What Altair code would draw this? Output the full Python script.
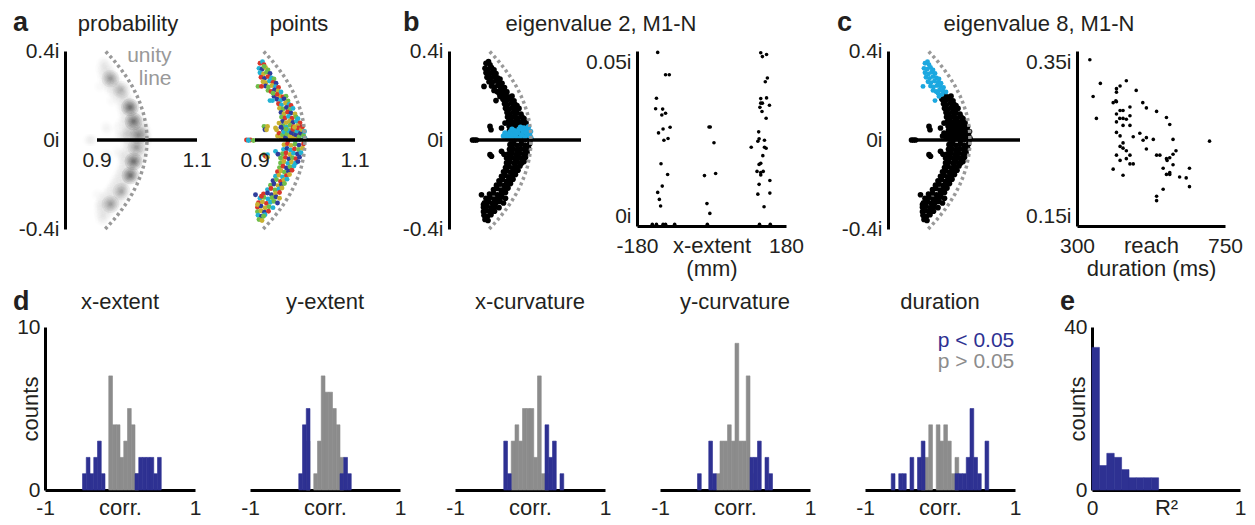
import altair as alt
import pandas as pd

FONT = "Liberation Sans"
TXT = "#231f20"
BLUE = "#2e3192"
HGRAY = "#8c8c8c"
CYAN = "#1ca8e0"
ARC = "#999999"
LBL = 21
TTL = 22
XR0 = 0.836   # left end of the real-part scale in the eigenvalue panels
PXU = 500     # pixels per unit of real part
BIN_W = 0.05
H_TOP = 178
H_BOT = 163

# ---------------- unity circle (imaginary parts) ----------------
unity_im = [-0.40, -0.36, -0.32, -0.28, -0.24, -0.20, -0.16, -0.12, -0.08, -0.04, 0.0,
            0.04, 0.08, 0.12, 0.16, 0.20, 0.24, 0.28, 0.32, 0.36, 0.40]

# ---------------- eigenvalues, dataset M1-N (real, imag) ----------------
m1n_base = [
    (0.950, 0.199), (0.956, 0.193), (0.962, 0.197),
    (0.944, 0.183), (0.951, 0.178), (0.958, 0.185), (0.966, 0.176),
    (0.947, 0.163), (0.953, 0.158), (0.961, 0.166), (0.968, 0.160), (0.972, 0.155),
    (0.949, 0.143), (0.956, 0.139), (0.963, 0.146), (0.970, 0.137), (0.976, 0.142),
    (0.952, 0.124), (0.958, 0.118), (0.965, 0.126), (0.972, 0.121), (0.980, 0.117),
    (0.953, 0.103), (0.960, 0.099), (0.967, 0.106), (0.974, 0.098), (0.982, 0.104), (0.986, 0.096),
    (0.955, 0.083), (0.962, 0.078), (0.969, 0.085), (0.976, 0.079), (0.983, 0.084), (0.990, 0.077),
    (0.956, 0.063), (0.963, 0.058), (0.970, 0.066), (0.977, 0.060), (0.985, 0.064), (0.993, 0.057),
    (0.957, 0.043), (0.964, 0.038), (0.971, 0.045), (0.979, 0.039), (0.987, 0.044), (0.995, 0.036),
    (0.958, 0.023), (0.965, 0.018), (0.972, 0.025), (0.980, 0.017), (0.988, 0.024), (0.997, 0.019),
    (0.959, 0.004), (0.966, -0.003), (0.973, 0.006), (0.981, -0.004), (0.989, 0.003), (0.998, -0.002),
    (0.958, -0.021), (0.965, -0.017), (0.972, -0.024), (0.980, -0.019), (0.988, -0.023), (0.997, -0.018),
    (0.957, -0.042), (0.964, -0.038), (0.971, -0.045), (0.979, -0.040), (0.987, -0.043), (0.995, -0.037),
    (0.955, -0.062), (0.962, -0.058), (0.970, -0.065), (0.977, -0.059), (0.985, -0.063), (0.992, -0.057),
    (0.954, -0.083), (0.961, -0.078), (0.968, -0.085), (0.975, -0.080), (0.982, -0.084), (0.989, -0.077),
    (0.951, -0.103), (0.958, -0.098), (0.966, -0.105), (0.973, -0.099), (0.981, -0.104), (0.986, -0.097),
    (0.949, -0.124), (0.956, -0.118), (0.963, -0.126), (0.970, -0.120), (0.978, -0.117),
    (0.945, -0.143), (0.952, -0.138), (0.959, -0.145), (0.967, -0.140), (0.974, -0.136),
    (0.941, -0.163), (0.948, -0.158), (0.955, -0.166), (0.963, -0.160), (0.969, -0.155),
    (0.936, -0.183), (0.943, -0.178), (0.951, -0.186), (0.958, -0.180), (0.964, -0.176),
    (0.931, -0.203), (0.938, -0.198), (0.946, -0.205), (0.953, -0.200), (0.959, -0.196),
    (0.925, -0.223), (0.932, -0.218), (0.940, -0.225), (0.948, -0.220), (0.954, -0.216),
    (0.917, -0.243), (0.925, -0.238), (0.933, -0.246), (0.941, -0.240), (0.949, -0.236),
    (0.910, -0.262), (0.918, -0.258), (0.926, -0.265), (0.934, -0.259), (0.942, -0.256), (0.949, -0.262),
    (0.907, -0.282), (0.915, -0.278), (0.923, -0.285), (0.931, -0.280), (0.938, -0.276), (0.945, -0.283),
    (0.905, -0.302), (0.912, -0.297), (0.920, -0.305), (0.928, -0.300), (0.936, -0.304),
    (0.905, -0.322), (0.912, -0.318), (0.919, -0.325), (0.927, -0.320),
    (0.906, -0.338), (0.913, -0.343), (0.920, -0.336),
    (0.908, -0.357), (0.914, -0.362),
    (0.883, 0.000), (0.887, 0.000), (0.891, 0.000), (0.918, 0.061), (0.920, 0.046),
    (0.941, 0.054), (0.948, 0.076), (0.918, -0.066), (0.921, -0.073), (0.941, -0.051),
    (0.946, -0.064), (0.951, -0.081), (0.901, -0.246), (0.905, -0.290),
]

# eigenvalue 8 of every condition (highlighted in c)
m1n_ev8 = [
    (0.910, 0.345), (0.915, 0.352), (0.918, 0.338),
    (0.908, 0.322), (0.914, 0.318), (0.921, 0.326), (0.926, 0.315),
    (0.910, 0.302), (0.917, 0.297), (0.923, 0.305), (0.930, 0.299),
    (0.912, 0.282), (0.919, 0.277), (0.926, 0.285), (0.933, 0.279), (0.938, 0.274),
    (0.916, 0.262), (0.922, 0.258), (0.929, 0.265), (0.936, 0.259), (0.942, 0.255),
    (0.906, 0.241), (0.921, 0.243), (0.927, 0.238), (0.934, 0.245), (0.941, 0.239), (0.947, 0.236),
    (0.926, 0.223), (0.932, 0.218), (0.939, 0.225), (0.946, 0.220), (0.952, 0.216),
    (0.930, 0.177), (0.938, 0.196), (0.944, 0.205), (0.936, 0.210),
]

# eigenvalue 2 of every condition (highlighted in b)
m1n_ev2 = [
    (0.945, 0.018), (0.948, 0.031), (0.952, 0.012), (0.955, 0.024), (0.958, 0.036),
    (0.961, 0.010), (0.964, 0.027), (0.967, 0.042), (0.970, 0.016), (0.973, 0.033),
    (0.976, 0.048), (0.978, 0.008), (0.981, 0.024), (0.984, 0.040), (0.986, 0.054),
    (0.988, 0.014), (0.991, 0.031), (0.993, 0.047), (0.995, 0.060), (0.997, 0.020),
    (0.999, 0.038), (1.000, 0.008), (0.962, 0.048), (0.979, 0.057),
]

# extra eigenvalues of the other datasets in a (real, imag, dataset)
a_extra = [
    (0.887, -0.002, 2), (0.897, -0.002, 4), (0.925, 0.061, 3), (0.923, 0.046, 3),
    (0.943, 0.046, 3), (0.952, 0.057, 1), (0.925, -0.066, 2), (0.925, -0.078, 3),
    (0.913, 0.241, 0), (0.935, 0.177, 2), (0.918, 0.331, 4), (0.913, -0.253, 0),
    (0.917, -0.343, 4),
]
a_dataset_codes = ("30412 14023 20341 42130 13402 04213 31204 24031 10342 43210 "
                   "02413 21430 34102 12043 40321 23014 01432 32140 14203 41023 "
                   "20314 03241 31420 42301 13024 24130 30241 01342 43102 12430 "
                   "20413 34021 41302 02134 23410 10243 32014 14320 40132 21043 "
                   "03421 42310 31204 13042 24301 10234")
a_palette = ["#d9372b", "#2e3d9c", "#22b2d3", "#c8b130", "#6fbe4a"]

# probability peaks in a (real, imag, darkness)
blob_re = [0.927, 0.949, 0.966, 0.973, 0.983, 0.979, 0.973, 0.967, 0.949, 0.927]
blob_im = [0.276, 0.226, 0.147, 0.084, 0.021, -0.033, -0.096, -0.159, -0.231, -0.288]
blob_w = [0.6, 0.4, 1.0, 1.0, 0.6, 0.6, 1.0, 1.0, 0.5, 0.6]

# ---------------- b: eigenvalue 2 imag part vs x-extent ----------------
b_xext = [-130, -111, -102, -133, -135, -118, -111, -120, -117, -100, -128, -115, -105,
          -122, -106, -119, -130, -126, -123, -143, -133, -117, -111, -89,
          -6, -3, 6, -17, 10, -11, -4, -10,
          119, 133, 123, 135, 130, 119, 133, 119, 123, 140, 117, 122, 132, 114, 115, 112,
          128, 96, 128, 132, 124, 119, 115, 110, 119, 125, 119, 115, 141, 112, 141, 127,
          116, 142]
b_eig = [0.0496, 0.0432, 0.0432, 0.0365, 0.0335, 0.0334, 0.0322, 0.0317, 0.0277, 0.0282,
         0.0266, 0.0245, 0.0250, 0.0178, 0.0147, 0.0114, 0.0096, 0.0076, 0.0057,
         0.0005, 0.0005, 0.0005, 0.0005, 0.0005,
         0.0283, 0.0283, 0.0238, 0.0144, 0.0150, 0.0064, 0.0036, 0.0005,
         0.0495, 0.0490, 0.0484, 0.0423, 0.0412, 0.0364, 0.0366, 0.0351, 0.0351, 0.0345,
         0.0339, 0.0327, 0.0308, 0.0269, 0.0249, 0.0242, 0.0245, 0.0225, 0.0225, 0.0222,
         0.0201, 0.0179, 0.0176, 0.0156, 0.0153, 0.0156, 0.0146, 0.0119, 0.0130, 0.0091,
         0.0094, 0.0055, 0.0005, 0.0005]

# ---------------- c: eigenvalue 8 imag part vs reach duration ----------------
c_dur = [339, 371, 349, 359, 431, 450, 420, 420, 480, 410, 418, 420, 500, 511, 542, 431,
         440, 420, 461, 430, 440, 450, 461, 420, 440, 461, 572, 582, 420, 431, 471, 491,
         501, 511, 532, 592, 703, 440, 431, 440, 450, 511, 601, 420, 431, 461, 450, 461,
         471, 542, 552, 572, 582, 592, 574, 562, 592, 410, 440, 572, 582, 582, 612, 632,
         642, 642, 562, 542, 542]
c_eig = [0.340, 0.313, 0.298, 0.273, 0.310, 0.316, 0.307, 0.303, 0.305, 0.291, 0.293,
         0.292, 0.291, 0.285, 0.281, 0.282, 0.282, 0.278, 0.286, 0.273, 0.273, 0.272,
         0.276, 0.269, 0.265, 0.265, 0.274, 0.266, 0.257, 0.253, 0.252, 0.256, 0.248,
         0.251, 0.249, 0.249, 0.247, 0.245, 0.241, 0.239, 0.236, 0.238, 0.236, 0.231,
         0.225, 0.231, 0.227, 0.221, 0.221, 0.231, 0.231, 0.227, 0.228, 0.232, 0.225,
         0.216, 0.220, 0.215, 0.208, 0.209, 0.211, 0.209, 0.206, 0.205, 0.216, 0.195,
         0.192, 0.184, 0.179]

# ---------------- d: histograms of correlations (left bin edge, count) ----------------
xext_blue_bin = [-0.50, -0.45, -0.40, -0.35, -0.30, -0.25, 0.20, 0.25, 0.30, 0.35, 0.40, 0.45, 0.50]
xext_blue_cnt = [1, 2, 1, 2, 3, 1, 1, 2, 2, 2, 2, 1, 2]
xext_gray_bin = [-0.15, -0.10, -0.05, 0.00, 0.05, 0.10, 0.15, 0.20]
xext_gray_cnt = [7, 4, 4, 2, 3, 5, 4, 1]

yext_blue_bin = [-0.35, -0.30, -0.25, 0.20, 0.25, 0.30]
yext_blue_cnt = [1, 4, 5, 1, 2, 1]
yext_gray_bin = [-0.25, -0.15, -0.10, -0.05, 0.00, 0.05, 0.10, 0.15, 0.20]
yext_gray_cnt = [3, 1, 3, 7, 6, 6, 5, 4, 2]

xcurv_blue_bin = [-0.35, -0.30, 0.20, 0.25, 0.30, 0.40]
xcurv_blue_cnt = [3, 1, 4, 2, 3, 1]
xcurv_gray_bin = [-0.25, -0.20, -0.15, -0.10, -0.05, 0.00, 0.05, 0.10, 0.15, 0.20]
xcurv_gray_cnt = [3, 4, 3, 5, 5, 5, 2, 7, 1, 1]

ycurv_blue_bin = [-0.50, -0.35, -0.30, 0.20, 0.25, 0.30, 0.40, 0.45]
ycurv_blue_cnt = [1, 3, 1, 2, 2, 3, 2, 1]
ycurv_gray_bin = [-0.25, -0.20, -0.15, -0.10, -0.05, 0.00, 0.05, 0.10, 0.15, 0.20]
ycurv_gray_cnt = [1, 3, 3, 4, 3, 9, 3, 3, 7, 1]

dur_blue_bin = [-0.65, -0.55, -0.50, -0.40, -0.30, -0.25, 0.20, 0.25, 0.30, 0.35, 0.40, 0.45, 0.50, 0.60]
dur_blue_cnt = [1, 1, 1, 2, 2, 3, 1, 1, 1, 2, 5, 2, 1, 3]
dur_gray_bin = [-0.25, -0.20, -0.15, -0.05, 0.00, 0.05, 0.10, 0.15, 0.20]
dur_gray_cnt = [2, 2, 4, 4, 3, 4, 3, 1, 2]

# ---------------- e: histogram of R^2 ----------------
r2_bin = [0.00, 0.05, 0.10, 0.15, 0.20, 0.25, 0.30, 0.35, 0.40]
r2_cnt = [35, 6, 9, 8, 5, 3, 3, 3, 3]

legend_text = ["p < 0.05", "p > 0.05"]


# =====================================================================
def pts_df(pts):
    return pd.DataFrame({"re": [p[0] for p in pts], "im": [p[1] for p in pts]})


def spacer(w, h):
    return alt.Chart(pd.DataFrame({"v": [0]})).mark_point(opacity=0).encode(
        x=alt.X("v:Q", axis=None), y=alt.Y("v:Q", axis=None)).properties(width=w, height=h)


def letter(ch, dx, dy):
    return alt.Chart(pd.DataFrame({"t": [ch]})).mark_text(
        align="left", baseline="alphabetic", font=FONT, fontSize=27, fontWeight="bold", color=TXT
    ).encode(x=alt.value(dx), y=alt.value(dy), text="t:N")


def title_text(text, cx, dy):
    return alt.Chart(pd.DataFrame({"t": [text]})).mark_text(
        align="center", baseline="alphabetic", font=FONT, fontSize=TTL, color=TXT
    ).encode(x=alt.value(cx), y=alt.value(dy), text="t:N")


YS = alt.Scale(domain=[-0.4, 0.4], nice=False, zero=False)


def circ_enc(width, yaxis):
    X = alt.X("re:Q", scale=alt.Scale(domain=[XR0, XR0 + width / PXU], nice=False, zero=False), axis=None)
    ax = alt.Axis(values=[-0.4, 0, 0.4], labelExpr="datum.value + 'i'", title=None, labelPadding=6) if yaxis else None
    Y = alt.Y("im:Q", scale=YS, axis=ax)
    return X, Y


def arc_layer(X, Y):
    return alt.Chart(pd.DataFrame({"im": unity_im})).transform_calculate(
        re="sqrt(1 - datum.im * datum.im)"
    ).mark_line(color=ARC, strokeDash=[3, 3], strokeWidth=3.5, strokeCap="butt").encode(
        x=X, y=Y, order="im:Q")


def hline_layer(X, Y, lo, hi):
    return alt.Chart(pd.DataFrame({"re": [lo], "re2": [hi], "im": [0.0]})).mark_rule(
        color="black", strokeWidth=3.5).encode(x=X, x2="re2:Q", y=Y)


def real_ticks(X, Y):
    return alt.Chart(pd.DataFrame({"re": [0.9, 1.1], "im": [0.0, 0.0], "t": ["0.9", "1.1"]})).mark_text(
        baseline="top", dy=10, font=FONT, fontSize=LBL, color=TXT).encode(x=X, y=Y, text="t:N")


def x_axis(values, title, tx, ty, pad, line_h=None):
    kw = dict(values=values, labelExpr="'' + datum.value", labelFlush=False, title=title,
              titleX=tx, titleY=ty, titleAlign="center", titleBaseline="top",
              titleFontSize=TTL, labelPadding=pad)
    if line_h:
        kw["titleLineHeight"] = line_h
    return alt.Axis(**kw)


m1n_all = m1n_base + m1n_ev8 + m1n_ev2

# ---- a: probability ----
W = 158
X, Y = circ_enc(W, True)
all_df = pts_df(m1n_all)
haze = [alt.Chart(all_df).mark_circle(color="black", size=s, opacity=o).encode(x=X, y=Y)
        for s, o in [(170, 0.008), (90, 0.009), (40, 0.009)]]
blob_df = pd.DataFrame({"re": blob_re, "im": blob_im, "w": blob_w})
blobs = [alt.Chart(blob_df).mark_circle(color="black", size=s).encode(
    x=X, y=Y, opacity=alt.Opacity("w:Q", scale=alt.Scale(domain=[0, 1], range=[0, o]), legend=None))
    for s, o in [(320, 0.10), (200, 0.18), (120, 0.30), (65, 0.5), (30, 0.8), (12, 1.0)]]
unity_txt = alt.Chart(pd.DataFrame({"re": [1.049, 1.049], "im": [0.352, 0.248], "t": ["unity", "line"]})).mark_text(
    align="right", baseline="alphabetic", font=FONT, fontSize=21, color=ARC).encode(x=X, y=Y, text="t:N")
a_prob = alt.layer(*haze, *blobs, hline_layer(X, Y, 0.9, 1.1), arc_layer(X, Y), real_ticks(X, Y),
                   unity_txt, letter("a", -52, -20), title_text("probability", 63, -20)
                   ).properties(width=W, height=H_TOP)

# ---- a: points ----
W = 226
X, Y = circ_enc(W, False)
codes = [int(c) for c in a_dataset_codes.replace(" ", "")]
a_re = [p[0] for p in m1n_all] + [p[0] for p in a_extra]
a_im = [p[1] for p in m1n_all] + [p[1] for p in a_extra]
a_ds = codes[:len(m1n_all)] + [p[2] for p in a_extra]
a_df = pd.DataFrame({"re": a_re, "im": a_im, "col": [a_palette[k] for k in a_ds]})
a_pts_layer = alt.Chart(a_df).mark_circle(size=24, opacity=1).encode(
    x=X, y=Y, color=alt.Color("col:N", scale=None))
a_pts = alt.layer(a_pts_layer, hline_layer(X, Y, 0.9, 1.1), arc_layer(X, Y), real_ticks(X, Y),
                  title_text("points", 76, -20)).properties(width=W, height=H_TOP)

# ---- b: eigenvalue panel ----
W = 188
X, Y = circ_enc(W, True)
b_black = alt.Chart(pts_df(m1n_base + m1n_ev8)).mark_circle(size=32, color="black", opacity=1).encode(x=X, y=Y)
b_cyan = alt.Chart(pts_df(m1n_ev2)).mark_circle(size=30, color=CYAN, opacity=1).encode(x=X, y=Y)
b_circ = alt.layer(b_black, b_cyan, hline_layer(X, Y, 0.88, 1.1), arc_layer(X, Y), letter("b", -46, -20),
                   title_text("eigenvalue 2, M1-N", 152, -20)).properties(width=W, height=H_TOP)

# ---- b: scatter ----
Xb = alt.X("x:Q", scale=alt.Scale(domain=[-180, 180], nice=False, zero=False),
           axis=x_axis([-180, 180], ["x-extent", "(mm)"], 74.5, 9, 9, 23))
Yb = alt.Y("y:Q", scale=alt.Scale(domain=[0, 0.05], nice=False, zero=False),
           axis=alt.Axis(values=[0, 0.05], labelExpr="datum.value + 'i'", labelFlush=True, title=None, labelPadding=6))
b_scat = alt.Chart(pd.DataFrame({"x": b_xext, "y": b_eig})).mark_circle(size=13, color="black", opacity=1).encode(
    x=Xb, y=Yb).properties(width=149, height=175)

# ---- c: eigenvalue panel ----
W = 189
X, Y = circ_enc(W, True)
c_black = alt.Chart(pts_df(m1n_base + m1n_ev2)).mark_circle(size=32, color="black", opacity=1).encode(x=X, y=Y)
c_cyan = alt.Chart(pts_df(m1n_ev8)).mark_circle(size=24, color=CYAN, opacity=1).encode(x=X, y=Y)
c_circ = alt.layer(c_black, c_cyan, hline_layer(X, Y, 0.88, 1.1), arc_layer(X, Y), letter("c", -51, -20),
                   title_text("eigenvalue 8, M1-N", 151, -20)).properties(width=W, height=H_TOP)

# ---- c: scatter ----
Xc = alt.X("x:Q", scale=alt.Scale(domain=[300, 750], nice=False, zero=False),
           axis=x_axis([300, 750], ["reach", "duration (ms)"], 74, 9, 9, 23))
Yc = alt.Y("y:Q", scale=alt.Scale(domain=[0.15, 0.35], nice=False, zero=False),
           axis=alt.Axis(values=[0.15, 0.35], labelExpr="datum.value + 'i'", labelFlush=True, title=None, labelPadding=6))
c_scat = alt.Chart(pd.DataFrame({"x": c_dur, "y": c_eig})).mark_circle(size=13, color="black", opacity=1).encode(
    x=Xc, y=Yc).properties(width=148, height=175)


# ---- d: histograms ----
def bars(df, X, Y, color):
    return alt.Chart(df).mark_rect(color=color, stroke=color, strokeWidth=0.6).encode(
        x=X, x2="b2:Q", y=Y, y2="z:Q")


def hist_df(bins, cnts):
    return pd.DataFrame({"b": bins, "b2": [v + BIN_W for v in bins], "c": cnts, "z": [0] * len(bins)})


def hist_panel(bb, bc, gb, gc, title, yaxis, letter_ch=None, legend=False):
    X = alt.X("b:Q", scale=alt.Scale(domain=[-1, 1], nice=False, zero=False),
              axis=x_axis([-1, 1], "corr.", 75, 7, 7))
    yax = alt.Axis(values=[0, 10], labelExpr="'' + datum.value", title="counts", titleAngle=270,
                   titleX=-15, titleY=H_BOT / 2, titleAlign="center", titleBaseline="middle",
                   titleFontSize=TTL, labelPadding=5) if yaxis else None
    Y = alt.Y("c:Q", scale=alt.Scale(domain=[0, 10], nice=False), axis=yax)
    layers = [
        bars(hist_df(gb, gc), X, Y, HGRAY),
        bars(hist_df(bb, bc), X, Y, BLUE),
        title_text(title, 75, -18),
    ]
    if legend:
        layers.append(alt.Chart(pd.DataFrame({"b": [0.99, 0.99], "c": [8.8, 7.5], "t": legend_text,
                                              "col": [BLUE, HGRAY]})).mark_text(
            align="right", baseline="alphabetic", font=FONT, fontSize=21).encode(
            x=X, y=Y, text="t:N", color=alt.Color("col:N", scale=None)))
    if letter_ch:
        layers.append(letter(letter_ch, -32, -17))
    return alt.layer(*layers).properties(width=150, height=H_BOT)


d1 = hist_panel(xext_blue_bin, xext_blue_cnt, xext_gray_bin, xext_gray_cnt, "x-extent", True, "d")
d2 = hist_panel(yext_blue_bin, yext_blue_cnt, yext_gray_bin, yext_gray_cnt, "y-extent", False)
d3 = hist_panel(xcurv_blue_bin, xcurv_blue_cnt, xcurv_gray_bin, xcurv_gray_cnt, "x-curvature", False)
d4 = hist_panel(ycurv_blue_bin, ycurv_blue_cnt, ycurv_gray_bin, ycurv_gray_cnt, "y-curvature", False)
d5 = hist_panel(dur_blue_bin, dur_blue_cnt, dur_gray_bin, dur_gray_cnt, "duration", False, legend=True)

# ---- e ----
Xe = alt.X("b:Q", scale=alt.Scale(domain=[0, 1], nice=False, zero=False),
           axis=x_axis([0, 1], "R²", 74, 7, 7))
Ye = alt.Y("c:Q", scale=alt.Scale(domain=[0, 40], nice=False),
           axis=alt.Axis(values=[0, 40], labelExpr="'' + datum.value", title="counts", titleAngle=270,
                         titleX=-15, titleY=H_BOT / 2, titleAlign="center", titleBaseline="middle",
                         titleFontSize=TTL, labelPadding=5))
e_panel = alt.layer(
    bars(hist_df(r2_bin, r2_cnt), Xe, Ye, BLUE),
    letter("e", -32, -17),
).properties(width=148, height=H_BOT)

top_row = alt.hconcat(spacer(20, H_TOP), a_prob, a_pts, b_circ, b_scat, spacer(102, H_TOP), c_circ, c_scat,
                      spacing=0, bounds="flush")
bottom_row = alt.hconcat(d1, spacer(55, H_BOT), d2, spacer(55, H_BOT), d3, spacer(55, H_BOT), d4,
                         spacer(55, H_BOT), d5, spacer(77, H_BOT), e_panel, spacing=0, bounds="flush")

chart = alt.vconcat(top_row, bottom_row, spacing=9).properties(
    padding={"left": 5, "right": 0, "top": 1, "bottom": 0}, background="white"
).configure_view(stroke=None).configure_axis(
    domainColor="black", domainWidth=3, ticks=False, grid=False, zindex=1,
    labelFont=FONT, labelFontSize=LBL, labelColor=TXT,
    titleFont=FONT, titleFontWeight="normal", titleColor=TXT
)

chart.save("out.html", embed_options={"renderer": "svg", "actions": False})
